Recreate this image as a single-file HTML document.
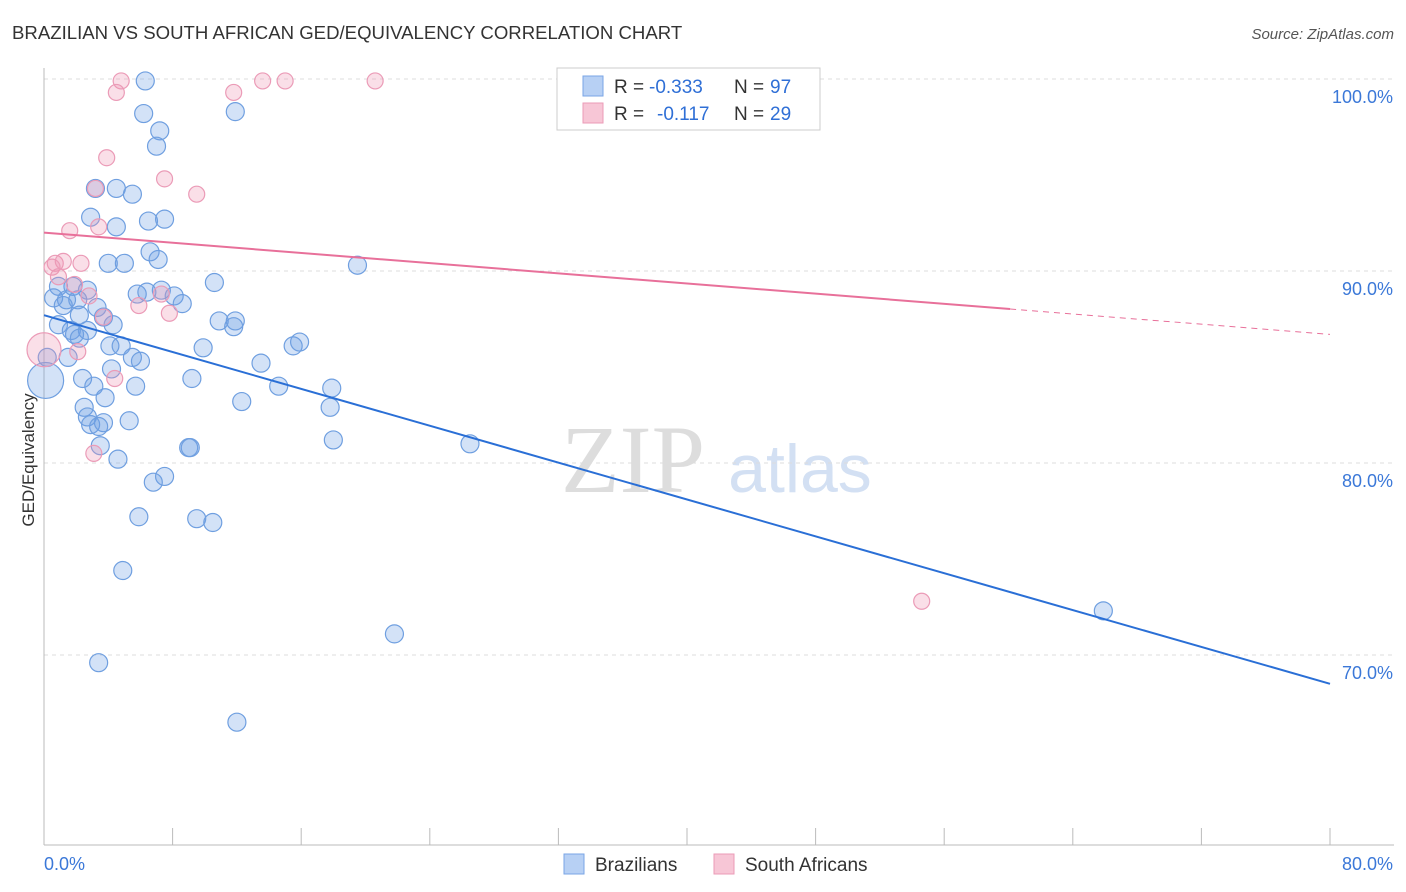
<!DOCTYPE html>
<html><head><meta charset="utf-8">
<style>
body{margin:0;background:#fff;font-family:"Liberation Sans",sans-serif;}
svg{display:block}
</style></head>
<body>
<svg id="chart" width="1406" height="892">
<text x="12" y="39" font-size="18.6" fill="#333">BRAZILIAN VS SOUTH AFRICAN GED/EQUIVALENCY CORRELATION CHART</text>
<text x="1394" y="39" font-size="15" fill="#555" text-anchor="end" font-style="italic">Source: ZipAtlas.com</text>
<text x="633" y="492" font-size="96" fill="#ddd" text-anchor="middle" font-family="Liberation Serif,serif">ZIP</text>
<text x="800" y="492" font-size="68" fill="#d3e0f3" text-anchor="middle">atlas</text>
<g id="grid"></g><g id="axes"></g><g id="pts"></g><g id="lines"></g>
<text x="34" y="460" font-size="17" fill="#333" text-anchor="middle" transform="rotate(-90 34 460)">GED/Equivalency</text>
<g>
<rect x="557" y="68" width="263" height="62" fill="#fff" stroke="#ccc"/>
<rect x="583" y="76" width="20" height="20" fill="#b7d0f4" stroke="#7aa5e6"/>
<text x="614" y="93" font-size="19" fill="#333">R =</text>
<text x="649" y="93" font-size="19" fill="#2f6fd6">-0.333</text>
<text x="734" y="93" font-size="19" fill="#333">N =</text>
<text x="770" y="93" font-size="19" fill="#2f6fd6">97</text>
<rect x="583" y="103" width="20" height="20" fill="#f7c6d6" stroke="#eb9bb7"/>
<text x="614" y="120" font-size="19" fill="#333">R =</text>
<text x="657" y="120" font-size="19" fill="#2f6fd6">-0.117</text>
<text x="734" y="120" font-size="19" fill="#333">N =</text>
<text x="770" y="120" font-size="19" fill="#2f6fd6">29</text>
</g>
<g>
<rect x="564" y="854" width="20" height="20" fill="#b7d0f4" stroke="#7aa5e6"/>
<text x="595" y="871" font-size="19" fill="#333">Brazilians</text>
<rect x="714" y="854" width="20" height="20" fill="#f7c6d6" stroke="#eb9bb7"/>
<text x="745" y="871" font-size="19" fill="#333">South Africans</text>
</g>
</svg>
<script>
const blueX=[6.3,6.2,11.9,7.2,7.0,3.2,4.5,5.5,2.9,6.5,7.5,4.5,6.6,7.1,4.0,5.0,19.5,10.6,0.9,1.8,2.7,0.6,1.4,2.1,5.8,6.4,7.3,8.1,8.6,3.3,1.2,2.2,3.7,4.3,10.9,11.9,11.8,0.9,1.7,2.7,1.9,2.2,4.1,4.8,9.9,15.5,15.9,0.2,1.5,5.5,6.0,13.5,4.2,2.4,9.2,0.1,3.1,5.7,14.6,17.9,3.8,12.3,17.8,2.5,2.7,5.3,2.9,3.7,3.4,18.0,26.5,9.0,9.1,3.5,4.6,7.5,6.8,5.9,9.5,10.5,4.9,65.9,21.8,3.4,12.0];
const blueY=[99.9,98.2,98.3,97.3,96.5,94.3,94.3,94.0,92.8,92.6,92.7,92.3,91.0,90.6,90.4,90.4,90.3,89.4,89.2,89.2,89.0,88.6,88.5,88.5,88.8,88.9,89.0,88.7,88.3,88.1,88.2,87.7,87.6,87.2,87.4,87.4,87.1,87.2,86.9,86.9,86.7,86.5,86.1,86.1,86.0,86.1,86.3,85.5,85.5,85.5,85.3,85.2,84.9,84.4,84.4,84.3,84.0,84.0,84.0,83.9,83.4,83.2,82.9,82.9,82.4,82.2,82.0,82.1,81.9,81.2,81.0,80.8,80.8,80.9,80.2,79.3,79.0,77.2,77.1,76.9,74.4,72.3,71.1,69.6,66.5];
const pinkX=[4.8,13.6,15.0,20.6,33.7,4.5,11.8,3.9,7.5,9.5,3.2,1.6,3.4,0.7,1.2,2.3,0.5,0.9,1.9,2.8,7.3,5.9,7.8,3.7,2.1,0,4.4,3.1,54.6];
const pinkY=[99.9,99.9,99.9,99.9,99.9,99.3,99.3,95.9,94.8,94.0,94.3,92.1,92.3,90.4,90.5,90.4,90.2,89.7,89.3,88.7,88.8,88.2,87.8,87.6,85.8,85.9,84.4,80.5,72.8];
const blueFit=[87.7,68.5];
const pinkFit=[92.0,86.7];
const pinkSolidEnd=60.1;
const yTicks=[100,90,80,70];
const xTicks=[0,8,16,24,32,40,48,56,64,72,80];
const NS="http://www.w3.org/2000/svg";
const X=v=>44+v/80*1286, Y=v=>79+(100-v)*19.2;
function mk(t,a,p){const e=document.createElementNS(NS,t);for(const k in a)e.setAttribute(k,a[k]);document.getElementById(p).appendChild(e);return e;}
yTicks.forEach(t=>{
 const l=mk('line',{x1:44,x2:1394,y1:Y(t),y2:Y(t),stroke:'#ddd','stroke-dasharray':'4,4'},'grid');
 
 
 const tx=mk('text',{x:1393,y:Y(t)+24,'font-size':18,fill:'#3b78d8','text-anchor':'end'},'grid');
 tx.textContent=t.toFixed(1)+'%';
 
 
});
const ax=mk('line',{x1:44,x2:44,y1:68,y2:845,stroke:'#bbb'},'axes');


const bx=mk('line',{x1:44,x2:1394,y1:845,y2:845,stroke:'#bbb'},'axes');


xTicks.forEach(t=>{
 const l=mk('line',{x1:X(t),x2:X(t),y1:828,y2:845,stroke:'#bbb'},'axes');
 
 
});
[[0,'start'],[80,'end']].forEach(([t,a])=>{
 const tx=mk('text',{x:t==0?44:1393,y:870,'font-size':18,fill:'#3b78d8','text-anchor':a},'axes');
 tx.textContent=t.toFixed(1)+'%';
 
 
});
blueX.forEach((v,i)=>{
 const r=(v<0.2&&blueY[i]<84.5)?18:9;
 const c=mk('circle',{cx:X(v),cy:Y(blueY[i]),r:r,fill:'rgba(110,160,230,0.3)',stroke:'#6f9fe0','stroke-width':1.2},'pts');
 
 
});
pinkX.forEach((v,i)=>{
 const r=v===0?17:8;
 const c=mk('circle',{cx:X(v),cy:Y(pinkY[i]),r:r,fill:'rgba(240,150,180,0.3)',stroke:'#eb9bb7','stroke-width':1.2},'pts');
 
 
});
const bl=mk('line',{x1:X(0),y1:Y(blueFit[0]),x2:X(80),y2:Y(blueFit[1]),stroke:'#2a6fd6','stroke-width':2},'lines');


const pm=pinkFit[0]+(pinkFit[1]-pinkFit[0])*pinkSolidEnd/80;
const pl=mk('line',{x1:X(0),y1:Y(pinkFit[0]),x2:X(pinkSolidEnd),y2:Y(pm),stroke:'#e8709a','stroke-width':2},'lines');


const pd=mk('line',{x1:X(pinkSolidEnd),y1:Y(pm),x2:X(80),y2:Y(pinkFit[1]),stroke:'#e8709a','stroke-width':1,'stroke-dasharray':'6,5'},'lines');


</script>
</body></html>
